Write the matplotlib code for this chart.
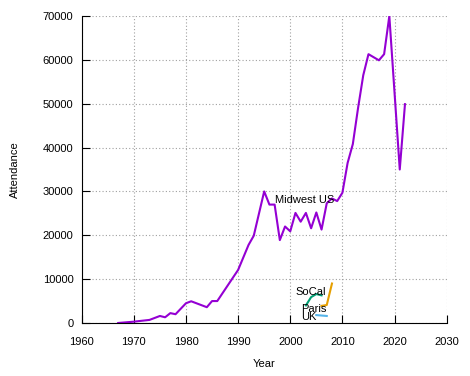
import matplotlib
matplotlib.use("Agg")
import matplotlib.pyplot as plt

midwest_years = [1967, 1970, 1973, 1975, 1976, 1977, 1978, 1980, 1981, 1984, 1985, 1986,
                 1990, 1992, 1993, 1995, 1996, 1997, 1998, 1999, 2000, 2001, 2002, 2003,
                 2004, 2005, 2006, 2007, 2008, 2009, 2010, 2011, 2012, 2013, 2014, 2015,
                 2016, 2017, 2018, 2019, 2021, 2022]
midwest_vals = [0, 300, 700, 1600, 1300, 2250, 2000, 4500, 4950, 3600, 5000, 5000,
                12100, 17800, 19900, 30000, 27000, 27000, 18900, 22000, 20900, 25100, 23100, 25100,
                21600, 25200, 21300, 27300, 28400, 27800, 29700, 36500, 40800, 49000, 56500, 61300,
                60600, 59900, 61300, 70000, 35000, 49900]

socal_years = [2003, 2004, 2005, 2006]
socal_vals = [4000, 5900, 6600, 6300]

paris_years = [2005, 2006, 2007]
paris_vals = [1800, 1700, 1600]

uk_years = [2006, 2007, 2008]
uk_vals = [3900, 4100, 9000]

labels = ["Midwest US", "SoCal", "Paris", "UK"]
label_pos = [(1997.0, 28000), (2001.0, 7050), (2002.0, 3300), (2002.0, 1300)]

plt.rcParams['font.family'] = ['Liberation Sans', 'DejaVu Sans']
fig = plt.figure(figsize=(4.7, 3.76), dpi=100)
ax = fig.add_axes([0.1738, 0.141, 0.9504 - 0.1738, 0.9574 - 0.141])

ax.plot(midwest_years, midwest_vals, color='#9400d3', lw=1.5)
ax.plot(socal_years, socal_vals, color='#009e73', lw=1.5)
ax.plot(paris_years, paris_vals, color='#56b4e9', lw=1.5)
ax.plot(uk_years, uk_vals, color='#e69f00', lw=1.5)

for lab, (x, y) in zip(labels, label_pos):
    ax.text(x, y, lab, fontsize=8, ha='left', va='center', color='black')

ax.set_xlim(1960, 2030)
ax.set_ylim(0, 70000)
ax.set_xticks(range(1960, 2031, 10))
ax.set_yticks(range(0, 70001, 10000))
ax.grid(True, color='#a0a0a0', linestyle=(0, (1, 2)), lw=0.8)
ax.spines['top'].set_visible(False)
ax.spines['right'].set_visible(False)
ax.tick_params(direction='in', length=6, width=0.8, labelsize=8)
ax.tick_params(axis='x', pad=10)
ax.tick_params(axis='y', pad=6)
ax.set_xlabel('Year', fontsize=8, labelpad=9)
ax.set_ylabel('Attendance', fontsize=8, labelpad=16)

fig.savefig('out.png', dpi=100)
